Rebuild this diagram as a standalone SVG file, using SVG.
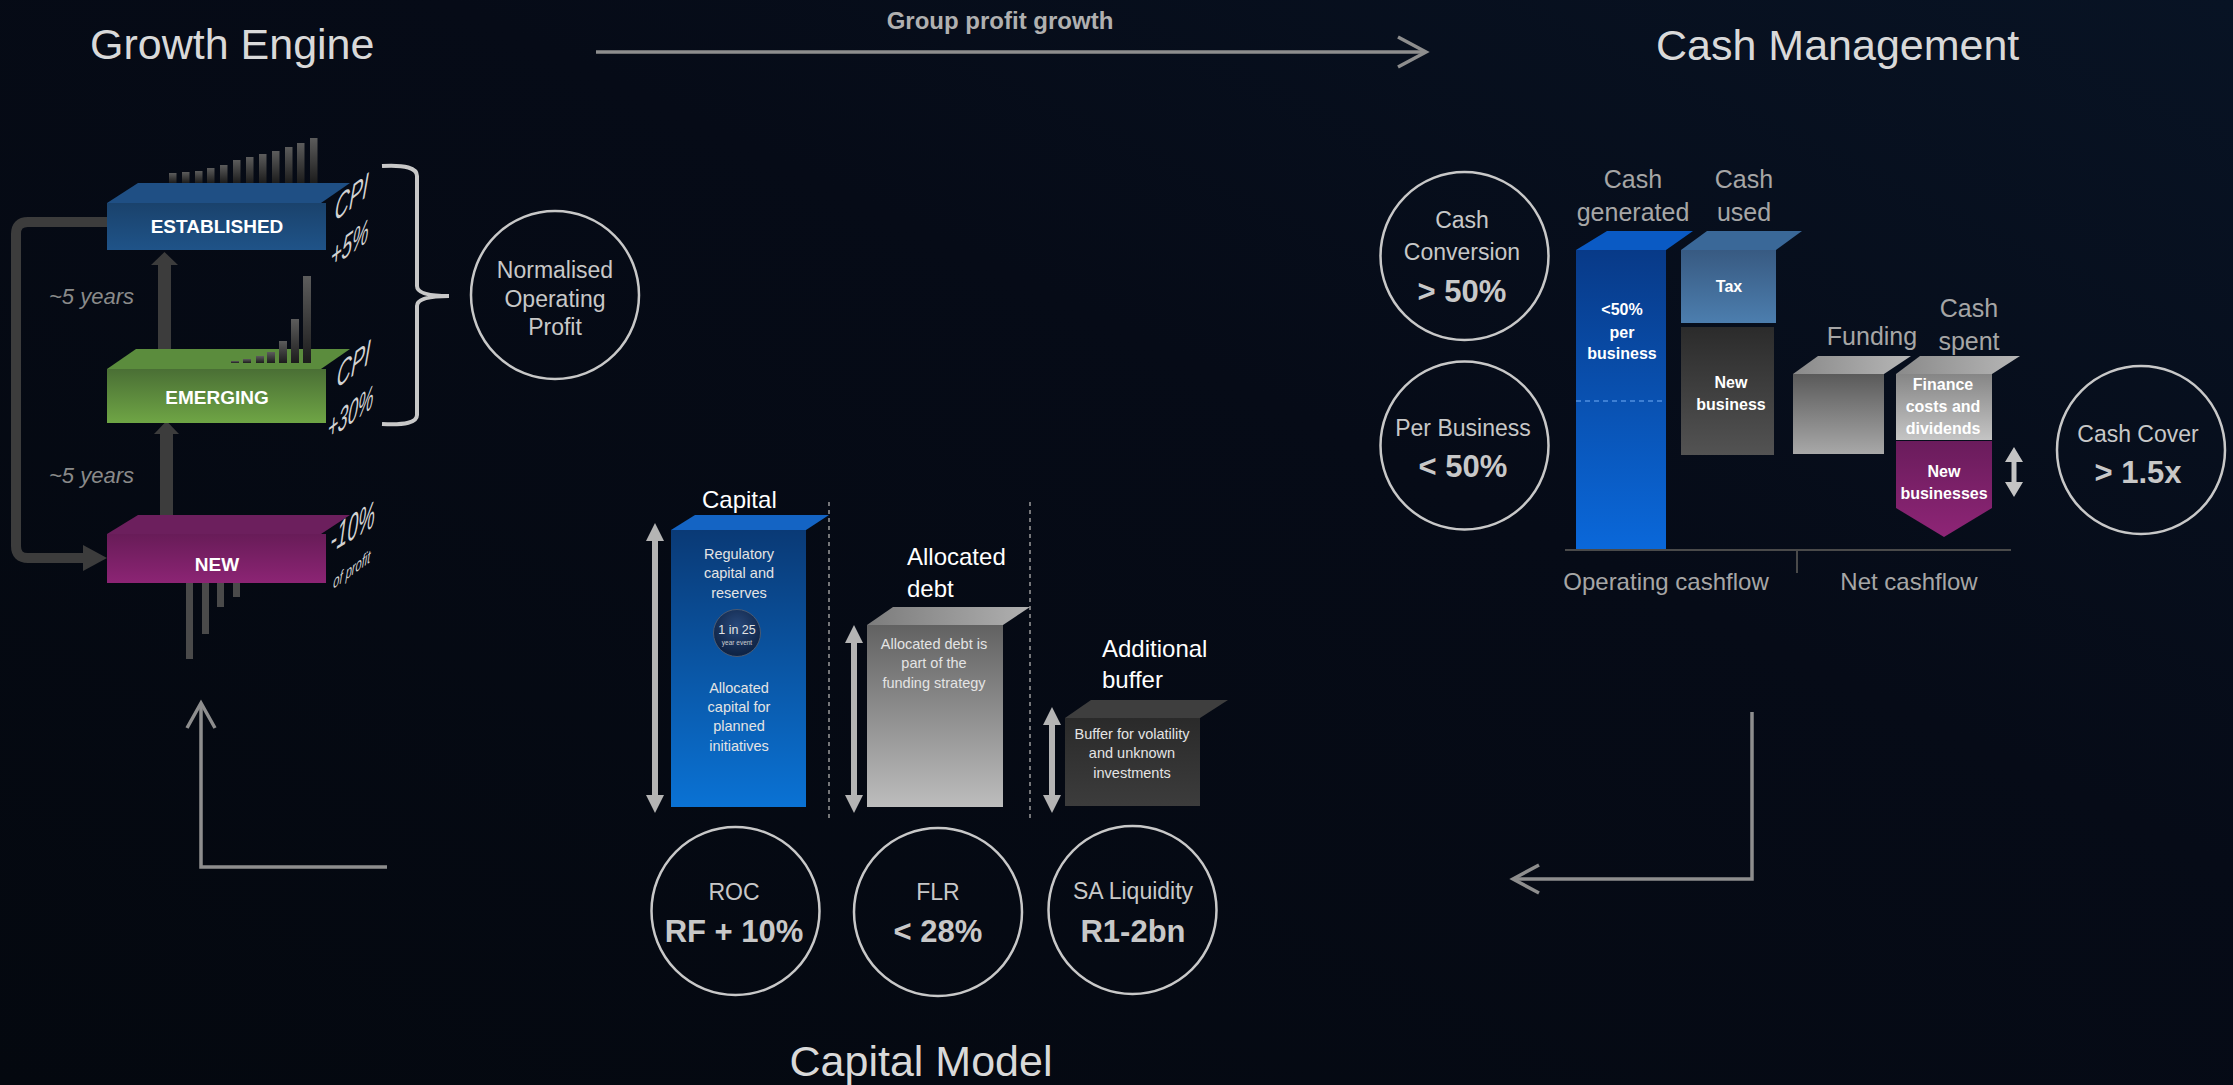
<svg xmlns="http://www.w3.org/2000/svg" width="2233" height="1085" viewBox="0 0 2233 1085">
  <defs>
    <linearGradient id="bg" x1="0" y1="1" x2="1" y2="0">
      <stop offset="0" stop-color="#04080f"/>
      <stop offset="0.6" stop-color="#060b17"/>
      <stop offset="1" stop-color="#081324"/>
    </linearGradient>
    <linearGradient id="estFront" x1="0" y1="0" x2="0" y2="1">
      <stop offset="0" stop-color="#1a426c"/>
      <stop offset="1" stop-color="#1f5388"/>
    </linearGradient>
    <linearGradient id="emFront" x1="0" y1="0" x2="0" y2="1">
      <stop offset="0" stop-color="#4a6f35"/>
      <stop offset="1" stop-color="#6fa545"/>
    </linearGradient>
    <linearGradient id="newFront" x1="0" y1="0" x2="0" y2="1">
      <stop offset="0" stop-color="#681c58"/>
      <stop offset="1" stop-color="#8c2474"/>
    </linearGradient>
    <linearGradient id="barUp" x1="0" y1="0" x2="0" y2="1">
      <stop offset="0" stop-color="#5c5c5c"/>
      <stop offset="1" stop-color="#1c1c1c"/>
    </linearGradient>
    <linearGradient id="capFront" x1="0" y1="0" x2="0" y2="1">
      <stop offset="0" stop-color="#0a3a76"/>
      <stop offset="1" stop-color="#0a72d4"/>
    </linearGradient>
    <linearGradient id="debtFront" x1="0" y1="0" x2="0" y2="1">
      <stop offset="0" stop-color="#626262"/>
      <stop offset="1" stop-color="#bdbdbd"/>
    </linearGradient>
    <linearGradient id="debtTop" x1="0" y1="0" x2="1" y2="0">
      <stop offset="0" stop-color="#7c7c7c"/>
      <stop offset="1" stop-color="#b0b0b0"/>
    </linearGradient>
    <linearGradient id="bufFront" x1="0" y1="0" x2="0" y2="1">
      <stop offset="0" stop-color="#2a2a2a"/>
      <stop offset="1" stop-color="#3c3c3c"/>
    </linearGradient>
    <linearGradient id="genFront" x1="0" y1="0" x2="0" y2="1">
      <stop offset="0" stop-color="#083a88"/>
      <stop offset="1" stop-color="#0a68da"/>
    </linearGradient>
    <linearGradient id="taxFront" x1="0" y1="0" x2="0" y2="1">
      <stop offset="0" stop-color="#385a82"/>
      <stop offset="1" stop-color="#4c7eae"/>
    </linearGradient>
    <linearGradient id="nbFront" x1="0" y1="0" x2="0" y2="1">
      <stop offset="0" stop-color="#2b2b2b"/>
      <stop offset="1" stop-color="#535353"/>
    </linearGradient>
    <linearGradient id="fundFront" x1="0" y1="0" x2="0" y2="1">
      <stop offset="0" stop-color="#5a5a5a"/>
      <stop offset="1" stop-color="#a8a8a8"/>
    </linearGradient>
    <linearGradient id="fundTop" x1="0" y1="0" x2="1" y2="0">
      <stop offset="0" stop-color="#8a8a8a"/>
      <stop offset="1" stop-color="#b6b6b6"/>
    </linearGradient>
    <linearGradient id="finFront" x1="0" y1="0" x2="0" y2="1">
      <stop offset="0" stop-color="#868686"/>
      <stop offset="1" stop-color="#c4c4c4"/>
    </linearGradient>
    <linearGradient id="nbizFill" x1="0" y1="0" x2="0" y2="1">
      <stop offset="0" stop-color="#6a1c5c"/>
      <stop offset="1" stop-color="#8e2576"/>
    </linearGradient>
    <radialGradient id="chip" cx="0.5" cy="0.35" r="0.6">
      <stop offset="0" stop-color="#28487a"/>
      <stop offset="1" stop-color="#0f2446"/>
    </radialGradient>
    <style>
      text { font-family: "Liberation Sans", Arial, sans-serif; }
      .title { font-size: 43px; fill: #d9d9d9; }
      .boxlbl { font-size: 19px; font-weight: bold; fill: #ffffff; text-anchor: middle; }
      .rate { font-style: italic; fill: #d2d2d2; }
      .years { font-size: 22px; font-style: italic; fill: #8a8a8a; }
      .ring { fill: none; stroke: #c8c8c8; stroke-width: 2.5; }
      .ringtxt { font-size: 23px; fill: #c8c8c8; text-anchor: middle; }
      .ringbig { font-size: 31px; font-weight: bold; fill: #c8c8c8; text-anchor: middle; }
      .hdr { font-size: 24px; fill: #ffffff; }
      .inbar { font-size: 14.5px; fill: #e4e4e4; text-anchor: middle; }
      .inbold { font-size: 16px; font-weight: bold; fill: #ffffff; text-anchor: middle; }
      .cashlbl { font-size: 25px; fill: #a6a6a6; text-anchor: middle; }
      .dbl { fill: #b4b4b4; }
      .flow { fill: none; stroke: #8e8e8e; stroke-width: 3.5; stroke-linecap: butt; }
      .loop { fill: none; stroke: #3c3c3c; stroke-width: 10; }
      .loophead { fill: #3c3c3c; }
      .divider { stroke: #9a9a9a; stroke-width: 1.5; stroke-dasharray: 4 4; }
    </style>
  </defs>

  <rect x="0" y="0" width="2233" height="1085" fill="url(#bg)"/>

  <!-- section titles -->
  <text class="title" x="90" y="59">Growth Engine</text>
  <text class="title" x="1656" y="60">Cash Management</text>
  <text class="title" x="921" y="1076" text-anchor="middle">Capital Model</text>
  <text x="1000" y="29" text-anchor="middle" font-size="24" font-weight="bold" fill="#b0b0b0">Group profit growth</text>

  <!-- connectors -->
  <g id="connectors">
    <!-- group profit growth arrow -->
    <line class="flow" x1="596" y1="52" x2="1425" y2="52"/>
    <polyline class="flow" points="1398,37 1426,52 1398,67"/>
    <!-- return loop from established back to new -->
    <path class="loop" d="M107,222 H28 Q16,222 16,234 V546 Q16,558 28,558 H86"/>
    <polygon class="loophead" points="83,545 107,558 83,571"/>
    <!-- new to emerging -->
    <rect class="loophead" x="160" y="432" width="13" height="86"/>
    <polygon class="loophead" points="154,434 166.5,421 179,434"/>
    <!-- emerging to established -->
    <rect class="loophead" x="158" y="263" width="13" height="86"/>
    <polygon class="loophead" points="151,265 164.5,252 178,265"/>
    <!-- cash management back to capital model -->
    <polyline class="flow" points="1752,712 1752,879 1513,879"/>
    <polyline class="flow" points="1539,865 1513,879 1539,893"/>
    <!-- capital model back to growth engine -->
    <polyline class="flow" points="387,867 201,867 201,703"/>
    <polyline class="flow" points="187,728 201,703 215,728"/>
  </g>

  <!-- Growth engine -->
  <g id="established">
    <g fill="url(#barUp)">
      <rect x="169" y="173" width="7.5" height="10"/>
      <rect x="182" y="172" width="7.5" height="11"/>
      <rect x="195" y="171" width="7.5" height="12"/>
      <rect x="207" y="168" width="7.5" height="15"/>
      <rect x="220" y="165" width="7.5" height="18"/>
      <rect x="233" y="160" width="7.5" height="23"/>
      <rect x="246" y="157" width="7.5" height="26"/>
      <rect x="259" y="154" width="7.5" height="29"/>
      <rect x="272" y="151" width="7.5" height="32"/>
      <rect x="285" y="147" width="7.5" height="36"/>
      <rect x="297" y="143" width="7.5" height="40"/>
      <rect x="310" y="138" width="7.5" height="45"/>
    </g>
    <polygon points="107,203 138,183 350,183 321,203" fill="#1f4f84"/>
    <rect x="107" y="203" width="219" height="47" fill="url(#estFront)"/>
    <text class="boxlbl" x="217" y="233">ESTABLISHED</text>
    <text class="rate" font-size="35" transform="matrix(0.57,-0.45,-0.08,1,334,222)">CPI</text>
    <text class="rate" font-size="34" transform="matrix(0.55,-0.4,-0.08,1,330,269)">+5%</text>
  </g>

  <g id="emerging">
    <polygon points="107,369 136,349 350,349 321,369" fill="#5b8c3d"/>
    <g fill="url(#barUp)">
      <rect x="231" y="361" width="8" height="2"/>
      <rect x="243" y="359" width="8" height="4"/>
      <rect x="256" y="356" width="8" height="7"/>
      <rect x="267" y="352" width="8" height="11"/>
      <rect x="279" y="341" width="8" height="22"/>
      <rect x="291" y="319" width="8" height="44"/>
      <rect x="303" y="276" width="8" height="87"/>
    </g>
    <rect x="107" y="369" width="219" height="54" fill="url(#emFront)"/>
    <text class="boxlbl" x="217" y="404">EMERGING</text>
    <text class="rate" font-size="35" transform="matrix(0.57,-0.45,-0.08,1,336,389)">CPI</text>
    <text class="rate" font-size="34" transform="matrix(0.52,-0.38,-0.08,1,327,441)">+30%</text>
  </g>

  <g id="new">
    <polygon points="107,534 138,515 350,515 321,534" fill="#6c1f5d"/>
    <g fill="#4a4a4a">
      <rect x="186" y="583" width="7" height="76"/>
      <rect x="202" y="583" width="7" height="51"/>
      <rect x="217" y="583" width="7" height="24"/>
      <rect x="233" y="583" width="7" height="14"/>
    </g>
    <rect x="107" y="534" width="219" height="49" fill="url(#newFront)"/>
    <text class="boxlbl" x="217" y="571">NEW</text>
    <text class="rate" font-size="38" font-style="normal" transform="matrix(0.5,-0.3,-0.05,1,330,553)">-10%</text>
    <text class="rate" font-size="18" transform="matrix(0.62,-0.45,-0.05,1,333,589)">of profit</text>
  </g>

  <text class="years" x="49" y="304">~5 years</text>
  <text class="years" x="49" y="483">~5 years</text>

  <g id="normalised-operating-profit">
    <path d="M382,166 Q417,164 417,176 V286 Q417,296 449,296 Q417,296 417,306 V415 Q417,426 382,424" fill="none" stroke="#c8c8c8" stroke-width="4"/>
    <circle class="ring" cx="555" cy="295" r="84"/>
    <text class="ringtxt" x="555" y="278">Normalised</text>
    <text class="ringtxt" x="555" y="307">Operating</text>
    <text class="ringtxt" x="555" y="335">Profit</text>
  </g>

  <!-- Capital model -->
  <g id="dividers">
    <line class="divider" x1="829" y1="502" x2="829" y2="820"/>
    <line class="divider" x1="1030" y1="502" x2="1030" y2="820"/>
  </g>

  <g id="capital">
    <text class="hdr" x="702" y="508">Capital</text>
    <polygon class="dbl" points="655,523 664,541 658,541 658,795 664,795 655,813 646,795 652,795 652,541 646,541"/>
    <polygon points="671,530 695,515 829,515 806,530" fill="#1464c4"/>
    <rect x="671" y="530" width="135" height="277" fill="url(#capFront)"/>
    <text class="inbar" x="739" y="559">Regulatory</text>
    <text class="inbar" x="739" y="578">capital and</text>
    <text class="inbar" x="739" y="598">reserves</text>
    <circle cx="737" cy="633" r="23.5" fill="url(#chip)" stroke="#4a5a72" stroke-width="1"/>
    <text x="737" y="634" font-size="12.5" fill="#e4e4e4" text-anchor="middle">1 in 25</text>
    <text x="737" y="645" font-size="6.5" fill="#d0d0d0" text-anchor="middle">year event</text>
    <text class="inbar" x="739" y="693">Allocated</text>
    <text class="inbar" x="739" y="712">capital for</text>
    <text class="inbar" x="739" y="731">planned</text>
    <text class="inbar" x="739" y="751">initiatives</text>
  </g>

  <g id="allocated-debt">
    <text class="hdr" x="907" y="565">Allocated</text>
    <text class="hdr" x="907" y="597">debt</text>
    <polygon class="dbl" points="854,625 863,643 857,643 857,795 863,795 854,813 845,795 851,795 851,643 845,643"/>
    <polygon points="867,625 893,607 1030,607 1003,625" fill="url(#debtTop)"/>
    <rect x="867" y="625" width="136" height="182" fill="url(#debtFront)"/>
    <text class="inbar" x="934" y="649">Allocated debt is</text>
    <text class="inbar" x="934" y="668">part of the</text>
    <text class="inbar" x="934" y="688">funding strategy</text>
  </g>

  <g id="additional-buffer">
    <text class="hdr" x="1102" y="657">Additional</text>
    <text class="hdr" x="1102" y="688">buffer</text>
    <polygon class="dbl" points="1052,707 1061,725 1055,725 1055,795 1061,795 1052,813 1043,795 1049,795 1049,725 1043,725"/>
    <polygon points="1065,718 1091,700 1228,700 1200,718" fill="#3e3e3e"/>
    <rect x="1065" y="718" width="135" height="88" fill="url(#bufFront)"/>
    <text class="inbar" x="1132" y="739">Buffer for volatility</text>
    <text class="inbar" x="1132" y="758">and unknown</text>
    <text class="inbar" x="1132" y="778">investments</text>
  </g>

  <g id="roc">
    <circle class="ring" cx="735.5" cy="911" r="84"/>
    <text class="ringtxt" x="734" y="900">ROC</text>
    <text class="ringbig" x="734" y="942">RF + 10%</text>
  </g>
  <g id="flr">
    <circle class="ring" cx="938" cy="912" r="84"/>
    <text class="ringtxt" x="938" y="900">FLR</text>
    <text class="ringbig" x="938" y="942">&lt; 28%</text>
  </g>
  <g id="sa-liquidity">
    <circle class="ring" cx="1132.5" cy="910" r="84"/>
    <text class="ringtxt" x="1133" y="899">SA Liquidity</text>
    <text class="ringbig" x="1133" y="942">R1-2bn</text>
  </g>

  <!-- Cash management -->
  <g id="cash-conversion">
    <circle class="ring" cx="1464.5" cy="256" r="84"/>
    <text class="ringtxt" x="1462" y="228">Cash</text>
    <text class="ringtxt" x="1462" y="260">Conversion</text>
    <text class="ringbig" x="1462" y="302">&gt; 50%</text>
  </g>
  <g id="per-business">
    <circle class="ring" cx="1464.5" cy="445.5" r="84"/>
    <text class="ringtxt" x="1463" y="436">Per Business</text>
    <text class="ringbig" x="1463" y="477">&lt; 50%</text>
  </g>

  <g id="cash-generated">
    <text class="cashlbl" x="1633" y="188">Cash</text>
    <text class="cashlbl" x="1633" y="221">generated</text>
    <polygon points="1576,250 1607,231 1693,231 1666,250" fill="#0a5ac4"/>
    <rect x="1576" y="250" width="90" height="300" fill="url(#genFront)"/>
    <line x1="1576" y1="401" x2="1666" y2="401" stroke="#4f8fe0" stroke-width="1.5" stroke-dasharray="5 4"/>
    <text class="inbold" x="1622" y="315">&lt;50%</text>
    <text class="inbold" x="1622" y="338">per</text>
    <text class="inbold" x="1622" y="359">business</text>
  </g>

  <g id="cash-used">
    <text class="cashlbl" x="1744" y="188">Cash</text>
    <text class="cashlbl" x="1744" y="221">used</text>
    <polygon points="1681,250 1707,231 1802,231 1776,250" fill="#3a6898"/>
    <rect x="1681" y="250" width="95" height="73" fill="url(#taxFront)"/>
    <text class="inbold" x="1729" y="292">Tax</text>
    <rect x="1681" y="327" width="93" height="128" fill="url(#nbFront)"/>
    <text class="inbold" x="1731" y="388">New</text>
    <text class="inbold" x="1731" y="410">business</text>
  </g>

  <g id="funding">
    <text class="cashlbl" x="1872" y="345">Funding</text>
    <polygon points="1793,374 1818,356 1911,356 1884,374" fill="url(#fundTop)"/>
    <rect x="1793" y="374" width="91" height="80" fill="url(#fundFront)"/>
  </g>

  <g id="cash-spent">
    <text class="cashlbl" x="1969" y="317">Cash</text>
    <text class="cashlbl" x="1969" y="350">spent</text>
    <polygon points="1896,374 1920,356 2020,356 1992,374" fill="url(#fundTop)"/>
    <rect x="1896" y="374" width="96" height="66" fill="url(#finFront)"/>
    <text class="inbold" x="1943" y="390" font-size="15">Finance</text>
    <text class="inbold" x="1943" y="412" font-size="15">costs and</text>
    <text class="inbold" x="1943" y="434" font-size="15">dividends</text>
    <polygon points="1896,441 1992,441 1992,508 1944,537 1896,508" fill="url(#nbizFill)"/>
    <text class="inbold" x="1944" y="477" font-size="15">New</text>
    <text class="inbold" x="1944" y="499" font-size="15">businesses</text>
    <polygon points="2014,447 2023,462 2016.5,462 2016.5,482 2023,482 2014,497 2005,482 2011.5,482 2011.5,462 2005,462" fill="#c4c4c4"/>
  </g>

  <g id="cash-axis">
    <line x1="1565" y1="550" x2="2011" y2="550" stroke="#4a4a4a" stroke-width="2"/>
    <line x1="1797" y1="550" x2="1797" y2="573" stroke="#4a4a4a" stroke-width="2"/>
    <text x="1666" y="590" font-size="24" fill="#a6a6a6" text-anchor="middle">Operating cashflow</text>
    <text x="1909" y="590" font-size="24" fill="#a6a6a6" text-anchor="middle">Net cashflow</text>
  </g>

  <g id="cash-cover">
    <circle class="ring" cx="2141" cy="450" r="84"/>
    <text class="ringtxt" x="2138" y="442">Cash Cover</text>
    <text class="ringbig" x="2138" y="483">&gt; 1.5x</text>
  </g>
</svg>
